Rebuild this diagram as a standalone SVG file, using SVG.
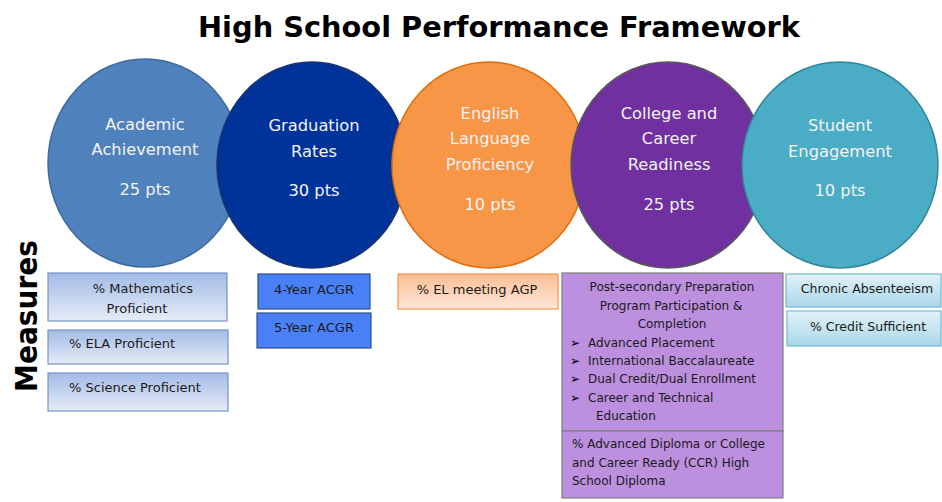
<svg xmlns="http://www.w3.org/2000/svg" width="942" height="502" viewBox="0 0 942 502">
<defs>
<linearGradient id="gAcad" x1="0" y1="0" x2="0" y2="1"><stop offset="0" stop-color="#A3BBE6"/><stop offset="1" stop-color="#E6ECF7"/></linearGradient>
<linearGradient id="gEL" x1="0" y1="0" x2="0" y2="1"><stop offset="0" stop-color="#FBBE93"/><stop offset="1" stop-color="#FEE8DA"/></linearGradient>
<linearGradient id="gTeal" x1="0" y1="0" x2="0" y2="1"><stop offset="0" stop-color="#E2F2F8"/><stop offset="1" stop-color="#A9D7E8"/></linearGradient>
</defs>
<style>
.ct{font-family:"DejaVu Sans","Liberation Sans",sans-serif;font-size:16.3px;fill:#F2F2F2;text-anchor:middle}
.bt{font-family:"DejaVu Sans","Liberation Sans",sans-serif;font-size:13px;fill:#1A1A1A}
.pt{font-family:"DejaVu Sans","Liberation Sans",sans-serif;font-size:12px;fill:#1A1A1A}
.tt{font-family:"DejaVu Sans","Liberation Sans",sans-serif;font-size:12.5px;fill:#1A1A1A}
.bul{font-family:"DejaVu Sans","Liberation Sans",sans-serif;font-size:12px;fill:#000}
.mid{text-anchor:middle}
.acad{fill:url(#gAcad);stroke:#7393C9;stroke-width:1.2}
.acgr{fill:#4A80F5;stroke:#2E4F8F;stroke-width:1.2}
.el{fill:url(#gEL);stroke:#F79646;stroke-width:1.2}
.teal{fill:url(#gTeal);stroke:#6DBBD2;stroke-width:1.2}
.ccr{fill:#BD8FDF;stroke:#7F7F7F;stroke-width:1.2}
</style>
<rect width="942" height="502" fill="#FFFFFF"/>
<g id="title">
<text x="499" y="37" font-family="DejaVu Sans, Liberation Sans, sans-serif" font-weight="bold" font-size="29" text-anchor="middle" textLength="602" lengthAdjust="spacingAndGlyphs" fill="#000">High School Performance Framework</text>
</g>
<g id="measures-label">
<text transform="translate(37,316) rotate(-90)" font-family="DejaVu Sans, Liberation Sans, sans-serif" font-weight="bold" font-size="30" text-anchor="middle" textLength="152" lengthAdjust="spacingAndGlyphs" fill="#000">Measures</text>
</g>
<g id="academic-achievement">
<ellipse cx="145" cy="163" rx="97" ry="104" fill="#4F81BD" stroke="#3E6A9E" stroke-width="1.5"/>
<text class="ct" x="145" y="130">Academic</text>
<text class="ct" x="145" y="155">Achievement</text>
<text class="ct" x="145" y="195">25 pts</text>
</g>
<g id="graduation-rates">
<ellipse cx="312" cy="165" rx="95" ry="103" fill="#003399" stroke="#1C3370" stroke-width="1.5"/>
<text class="ct" x="314" y="131">Graduation</text>
<text class="ct" x="314" y="157">Rates</text>
<text class="ct" x="314" y="196">30 pts</text>
</g>
<g id="english-language-proficiency">
<ellipse cx="489" cy="165" rx="97" ry="103" fill="#F79646" stroke="#E46C0A" stroke-width="1.5"/>
<text class="ct" x="490" y="119">English</text>
<text class="ct" x="490" y="144">Language</text>
<text class="ct" x="490" y="170">Proficiency</text>
<text class="ct" x="490" y="210">10 pts</text>
</g>
<g id="college-career-readiness">
<ellipse cx="668" cy="165" rx="97" ry="103" fill="#7030A0" stroke="#595959" stroke-width="1.5"/>
<text class="ct" x="669" y="119">College and</text>
<text class="ct" x="669" y="144">Career</text>
<text class="ct" x="669" y="170">Readiness</text>
<text class="ct" x="669" y="210">25 pts</text>
</g>
<g id="student-engagement">
<ellipse cx="840" cy="165" rx="98" ry="103" fill="#4BACC6" stroke="#31849B" stroke-width="1.5"/>
<text class="ct" x="840" y="131">Student</text>
<text class="ct" x="840" y="157">Engagement</text>
<text class="ct" x="840" y="196">10 pts</text>
</g>
<g id="connectors"/>
<g id="m-math">
<rect class="acad" x="48" y="273" width="179" height="48"/>
<text class="bt mid" x="143" y="293">% Mathematics</text>
<text class="bt mid" x="137" y="313">Proficient</text>
</g>
<g id="m-ela">
<rect class="acad" x="48" y="330" width="180" height="34"/>
<text class="bt" x="69" y="348">% ELA Proficient</text>
</g>
<g id="m-science">
<rect class="acad" x="48" y="373" width="180" height="38"/>
<text class="bt" x="69" y="392">% Science Proficient</text>
</g>
<g id="m-acgr4">
<rect class="acgr" x="258" y="274" width="112" height="35"/>
<text class="bt mid" x="314" y="294">4-Year ACGR</text>
</g>
<g id="m-acgr5">
<rect class="acgr" x="257" y="313" width="114" height="35"/>
<text class="bt mid" x="314" y="332">5-Year ACGR</text>
</g>
<g id="m-el">
<rect class="el" x="398" y="274" width="160" height="35"/>
<text class="bt mid" x="477" y="294">% EL meeting AGP</text>
</g>
<g id="m-postsecondary">
<rect class="ccr" x="562" y="273" width="221" height="158"/>
<text class="pt mid" x="672" y="291">Post-secondary Preparation</text>
<text class="pt mid" x="671" y="310">Program Participation &amp;</text>
<text class="pt mid" x="672" y="328">Completion</text>
<text class="bul" x="570" y="347">➢</text>
<text class="pt" x="588" y="347">Advanced Placement</text>
<text class="bul" x="570" y="365">➢</text>
<text class="pt" x="588" y="365">International Baccalaureate</text>
<text class="bul" x="570" y="383">➢</text>
<text class="pt" x="588" y="383">Dual Credit/Dual Enrollment</text>
<text class="bul" x="570" y="402">➢</text>
<text class="pt" x="588" y="402">Career and Technical</text>
<text class="pt" x="596" y="420">Education</text>
</g>
<g id="m-diploma">
<rect class="ccr" x="562" y="431" width="221" height="67"/>
<text class="pt" x="572" y="448">% Advanced Diploma or College</text>
<text class="pt" x="572" y="467">and Career Ready (CCR) High</text>
<text class="pt" x="572" y="485">School Diploma</text>
</g>
<g id="m-absenteeism">
<rect class="teal" x="786" y="274" width="155" height="33"/>
<text class="tt mid" x="867" y="293">Chronic Absenteeism</text>
</g>
<g id="m-credit">
<rect class="teal" x="787" y="311" width="154" height="35"/>
<text class="tt mid" x="868" y="331">% Credit Sufficient</text>
</g>
</svg>
